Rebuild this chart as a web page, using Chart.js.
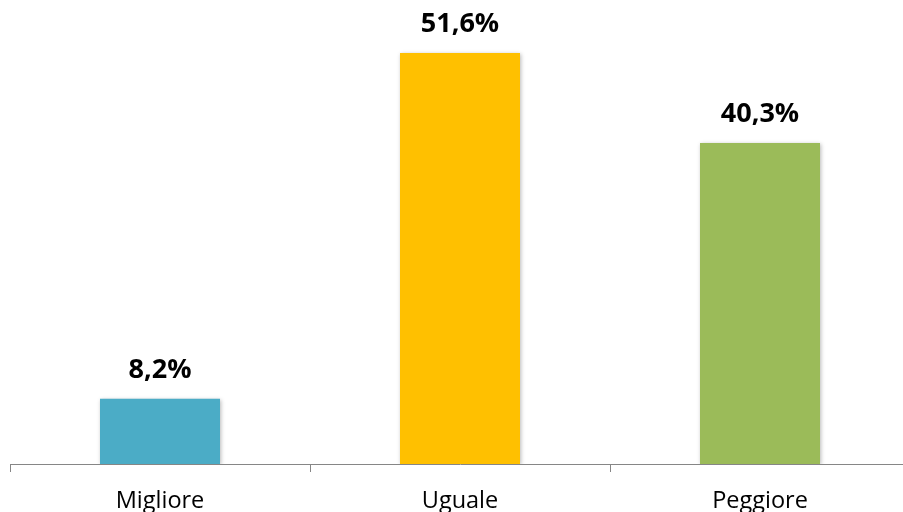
<!DOCTYPE html>
<html>
<head>
<meta charset="utf-8">
<script src="https://cdn.jsdelivr.net/npm/chart.js@4/dist/chart.umd.min.js"></script>
<style>
  html, body { margin: 0; padding: 0; background: #fff; overflow: hidden; }
  #wrap { position: relative; width: 920px; height: 512px; }
</style>
</head>
<body>
<div id="wrap"><canvas id="c"></canvas></div>
<script>
const categories = ['Migliore', 'Uguale', 'Peggiore'];
const values = [8.2, 51.6, 40.3];
const barColors = ['#4BACC6', '#FFC000', '#9BBB59'];

const fmt = v => v.toFixed(1).replace('.', ',') + '%';

// Bold value labels above each bar, placed from the bar elements
const valueLabels = {
  id: 'valueLabels',
  afterDatasetsDraw(chart) {
    const ctx = chart.ctx;
    const meta = chart.getDatasetMeta(0);
    ctx.save();
    ctx.font = 'bold 27px "Open Sans", sans-serif';
    ctx.fillStyle = '#000';
    ctx.textAlign = 'center';
    ctx.textBaseline = 'alphabetic';
    meta.data.forEach((bar, i) => {
      ctx.fillText(fmt(values[i]), bar.x, bar.y - 21);
    });
    ctx.restore();
  }
};

// Soft shadow behind the bars
const barShadow = {
  id: 'barShadow',
  beforeDatasetDraw(chart) {
    const ctx = chart.ctx;
    ctx.save();
    ctx.shadowColor = 'rgba(0,0,0,0.28)';
    ctx.shadowBlur = 4;
    ctx.shadowOffsetX = 1;
    ctx.shadowOffsetY = 1;
  },
  afterDatasetDraw(chart) {
    chart.ctx.restore();
  }
};

new Chart(document.getElementById('c'), {
  type: 'bar',
  data: {
    labels: categories,
    datasets: [{
      data: values,
      backgroundColor: barColors,
      borderWidth: 0,
      barPercentage: 0.4,
      categoryPercentage: 1.0
    }]
  },
  options: {
    responsive: true,
    maintainAspectRatio: false,
    animation: false,
    layout: { padding: { left: 10, right: 10, top: 0, bottom: 0 } },
    plugins: { legend: { display: false }, tooltip: { enabled: false } },
    scales: {
      x: {
        offset: true,
        afterFit(scale) { scale.height = 48; },
        grid: {
          offset: true,
          drawOnChartArea: false,
          drawTicks: true,
          tickLength: 8,
          color: '#868686',
          lineWidth: 1
        },
        border: { display: true, color: '#868686', width: 1 },
        ticks: {
          color: '#000',
          padding: 15,
          font: { family: '"Open Sans", sans-serif', size: 23.5 }
        }
      },
      y: {
        display: false,
        min: 0,
        max: 58.25
      }
    }
  },
  plugins: [barShadow, valueLabels]
});
</script>
</body>
</html>
